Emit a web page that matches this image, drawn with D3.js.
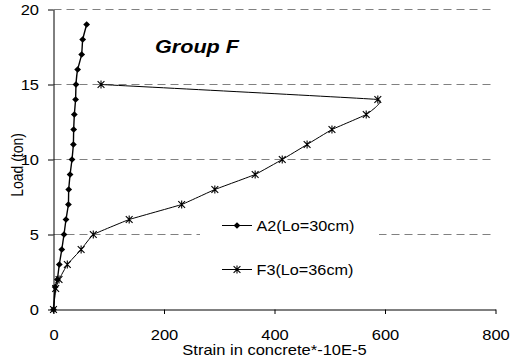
<!DOCTYPE html>
<html>
<head>
<meta charset="utf-8">
<script src="https://cdn.jsdelivr.net/npm/d3@7"></script>
<style>
  html, body { margin: 0; padding: 0; background: #fff; }
  svg { display: block; font-family: Arial, "Liberation Sans", sans-serif; }
</style>
</head>
<body>
<svg id="chart" width="527" height="359"></svg>
<script>
// Load (ton) against concrete strain for the two specimens
const loadA2   = [0, 1.5, 2, 3, 4, 5, 6, 7, 8, 9, 10, 11, 12, 13, 14, 15, 16, 17, 18, 19];
const strainA2 = [0, 3, 7, 10.5, 15, 19, 22.6, 27, 27.5, 30, 33.5, 36, 36.5, 37.7, 40, 40.7, 43.7, 51, 52.8, 60];

const loadF3   = [0, 1.4, 2, 3, 4, 5, 6, 7, 8, 9, 10, 11, 12, 13, 14, 15];
const strainF3 = [0, 4, 10, 25, 50, 72, 137, 232, 292, 365, 414, 459, 504, 566, 587, 86];

const xTicks = [0, 200, 400, 600, 800];
const yTicks = [0, 5, 10, 15, 20];
const gridLoads = [5, 10, 15, 20];

const seriesNames = ["A2(Lo=30cm)", "F3(Lo=36cm)"];
const chartTitle = "Group F";
const xTitle = "Strain in concrete*-10E-5";
const yTitle = "Load (ton)";

const svg = d3.select("#chart");
const stretch = 1.18;   // glyphs are drawn slightly wide

const x = d3.scaleLinear().domain([0, 800]).range([53.5, 495.5]);
const y = d3.scaleLinear().domain([0, 20]).range([309.5, 9.5]);

// dashed horizontal gridlines
svg.append("g").selectAll("line").data(gridLoads).join("line")
  .attr("x1", x(0)).attr("x2", x(800))
  .attr("y1", d => y(d)).attr("y2", d => y(d))
  .attr("stroke", "#808080").attr("stroke-width", 1.2)
  .attr("stroke-dasharray", "8,5");

// legend panel sits over the gridlines
svg.append("rect").attr("x", 200).attr("y", 203).attr("width", 179).attr("height", 88)
  .attr("fill", "#fff");

// axes
const gx = svg.append("g").attr("transform", `translate(0,${y(0)})`)
  .call(d3.axisBottom(x).tickValues(xTicks).tickSize(4.5).tickPadding(0).tickSizeOuter(0));
gx.selectAll("text")
  .attr("y", 0).attr("dy", 0)
  .attr("transform", `translate(0,30.5) scale(${stretch},1)`);

const gy = svg.append("g").attr("transform", `translate(${x(0)},0)`)
  .call(d3.axisLeft(y).tickValues(yTicks).tickSize(5.5).tickPadding(0).tickSizeOuter(0));
gy.selectAll("text")
  .attr("x", 0).attr("dy", "0.35em")
  .attr("transform", `translate(-14.5,0) scale(${stretch},1)`);

[gx, gy].forEach(g => {
  g.select(".domain").attr("stroke", "#000").attr("stroke-width", 1);
  g.selectAll(".tick line").attr("stroke", "#000");
  g.selectAll("text").attr("font-size", 14).attr("fill", "#000")
    .attr("font-family", "Arial, 'Liberation Sans', sans-serif");
});

// series lines (lightly smoothed)
const toPts = (xs, ys) => xs.map((v, i) => [x(v), y(ys[i])]);
const line = d3.line().curve(d3.curveCardinal.tension(0.8));
const ptsA2 = toPts(strainA2, loadA2);
const ptsF3 = toPts(strainF3, loadF3);

svg.append("path").attr("d", line(ptsF3))
  .attr("fill", "none").attr("stroke", "#000").attr("stroke-width", 1);
svg.append("path").attr("d", line(ptsA2))
  .attr("fill", "none").attr("stroke", "#000").attr("stroke-width", 1.4);

// markers
const diamond = (cx, cy) => `M${cx},${cy - 3.3}L${cx + 3.4},${cy}L${cx},${cy + 3.3}L${cx - 3.4},${cy}Z`;
const star = (cx, cy) => {
  const r = 3.4;
  return `M${cx - r},${cy - r}L${cx + r},${cy + r}M${cx - r},${cy + r}L${cx + r},${cy - r}` +
         `M${cx},${cy - r - 0.5}L${cx},${cy + r + 0.5}`;
};

svg.append("g").selectAll("path").data(ptsF3).join("path")
  .attr("d", d => star(d[0], d[1]))
  .attr("stroke", "#000").attr("stroke-width", 1.1).attr("fill", "none");
svg.append("g").selectAll("path").data(ptsA2).join("path")
  .attr("d", d => diamond(d[0], d[1]))
  .attr("fill", "#000");

// legend
const legendRows = [
  { name: seriesNames[0], y: 225.5, mark: diamond, isFill: true },
  { name: seriesNames[1], y: 269.5, mark: star, isFill: false }
];
legendRows.forEach(r => {
  svg.append("line").attr("x1", 222).attr("x2", 252).attr("y1", r.y).attr("y2", r.y)
    .attr("stroke", "#000").attr("stroke-width", 1);
  const m = svg.append("path").attr("d", r.mark(237, r.y));
  if (r.isFill) m.attr("fill", "#000");
  else m.attr("fill", "none").attr("stroke", "#000").attr("stroke-width", 1.1);
  svg.append("text").text(r.name)
    .attr("transform", `translate(256.5,${r.y}) scale(1.12,1)`)
    .attr("dy", "0.35em").attr("font-size", 14.5).attr("fill", "#000");
});

// chart title
svg.append("text").text(chartTitle)
  .attr("transform", `translate(155,53) scale(1.2,1)`)
  .attr("font-size", 18).attr("font-weight", "bold").attr("font-style", "italic")
  .attr("fill", "#000");

// axis titles
svg.append("text").text(xTitle)
  .attr("transform", `translate(${(x(0) + x(800)) / 2},354.5) scale(${stretch},1)`)
  .attr("text-anchor", "middle").attr("font-size", 14).attr("fill", "#000");

svg.append("text").text(yTitle)
  .attr("transform", `translate(17,165) scale(${stretch},1) rotate(-90)`)
  .attr("text-anchor", "middle").attr("dy", "0.35em")
  .attr("font-size", 14).attr("fill", "#000");
</script>
</body>
</html>
